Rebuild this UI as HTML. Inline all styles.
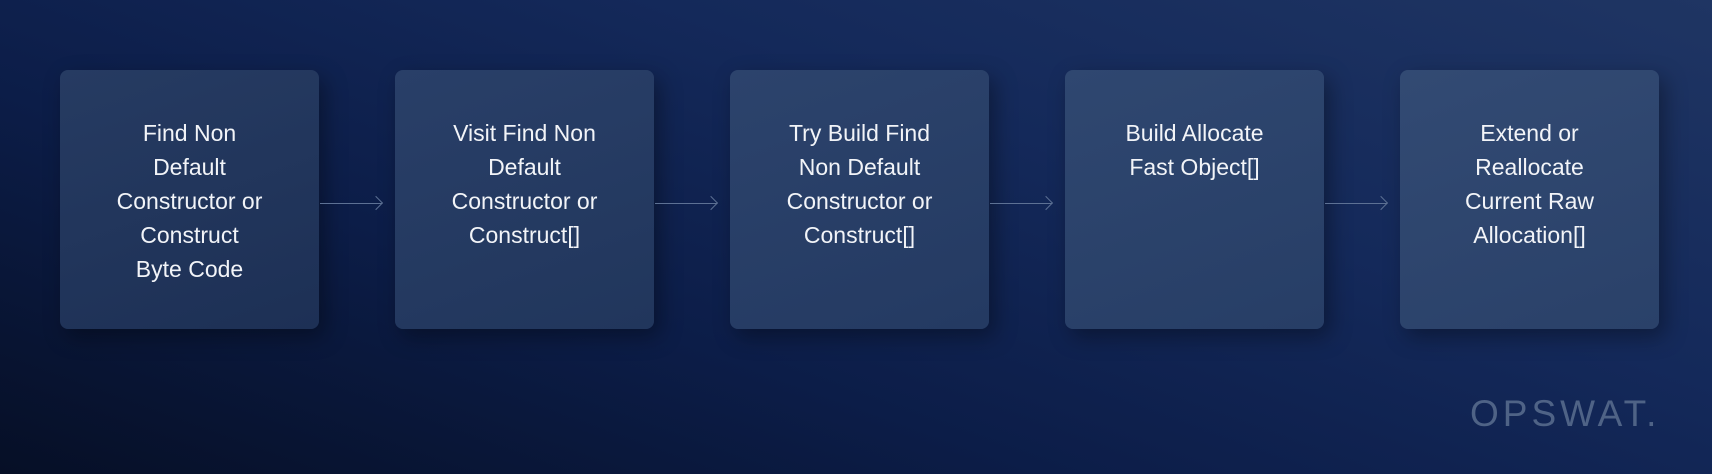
<!DOCTYPE html>
<html><head><style>
html,body{margin:0;padding:0}
body{width:1712px;height:474px;position:relative;overflow:hidden;
background:linear-gradient(20deg,#060f26 0%,#0c1d48 35%,#14295a 65%,#1f3563 100%);
font-family:"Liberation Sans",sans-serif;}
.box{position:absolute;top:70px;width:259px;height:259px;border-radius:8px;
box-shadow:6px 8px 22px rgba(0,0,0,0.35);color:#f2f4f8;font-size:23px;line-height:34px;
text-align:center;box-sizing:border-box;padding:46px 18px 0}
.arr{position:absolute;top:203px;width:62px;height:1px;background:#5d7194}
.arr:after{content:"";position:absolute;right:0;top:-5px;width:9px;height:9px;border-right:1.3px solid #5d7194;border-top:1.3px solid #5d7194;transform:rotate(45deg);transform-origin:center;right:1px}
.logo{position:absolute;left:1470px;top:393px;font-size:37px;letter-spacing:4px;color:#4f6386;font-weight:300}
</style></head><body>
<div class="box" style="left:60px;background:linear-gradient(160deg,#263b62,#1d3055)">Find Non<br>Default<br>Constructor or<br>Construct<br>Byte Code</div>
<div class="arr" style="left:320px"></div>
<div class="box" style="left:395px;background:linear-gradient(160deg,#293f68,#21365c)">Visit Find Non<br>Default<br>Constructor or<br>Construct[]</div>
<div class="arr" style="left:655px"></div>
<div class="box" style="left:730px;background:linear-gradient(160deg,#2c436c,#243a62)">Try Build Find<br>Non Default<br>Constructor or<br>Construct[]</div>
<div class="arr" style="left:990px"></div>
<div class="box" style="left:1065px;background:linear-gradient(160deg,#2f4770,#273e66)">Build Allocate<br>Fast Object[]</div>
<div class="arr" style="left:1325px"></div>
<div class="box" style="left:1400px;background:linear-gradient(160deg,#324a73,#2a4169)">Extend or<br>Reallocate<br>Current Raw<br>Allocation[]</div>
<div class="logo">OPSWAT.</div>
</body></html>
